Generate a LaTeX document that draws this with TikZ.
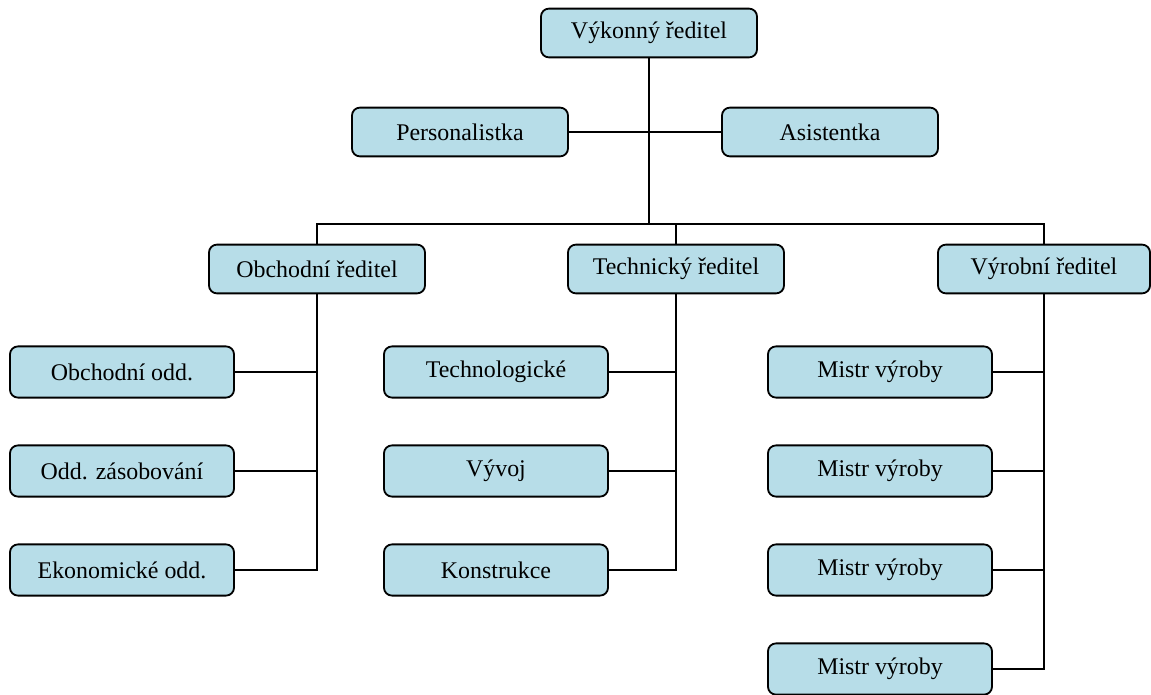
\documentclass[tikz,border=0pt]{standalone}
\usepackage{fontspec}
\setmainfont{Liberation Serif}
\definecolor{boxblue}{RGB}{183,221,232}
\tikzset{
  unit/.style={draw, line width=1.3pt, fill=boxblue, rounded corners=0.2cm,
    minimum height=1.22cm, inner sep=0pt, font=\fontsize{17}{20}\selectfont},
  head/.style={unit, minimum width=5.4cm},
  dept/.style={unit, minimum width=5.6cm, minimum height=1.28cm},
  link/.style={line width=1.1pt}
}
\begin{document}
\begin{tikzpicture}[x=0.025cm,y=-0.025cm]
        \useasboundingbox (0,0) rectangle (1151,695);
        %% top
        \node[head] (vr) at (649,33) {Výkonný ředitel};
        \node[head] (pe) at (460,132) {Personalistka};
        \node[head] (as) at (830,132) {Asistentka};
        \draw[link] (pe) -- (as);
        %% directors
        \node[head] (ob) at (317,269) {Obchodní ředitel};
        \node[head] (te) at (676,269) {Technický ředitel};
        \node[head, minimum width=5.3cm] (vy) at (1044,269) {Výrobní ředitel};
        \coordinate (bus) at (649,224);
        \draw[link] (vr) -- (bus);
        \draw[link] (ob.north) |- (bus) -| (vy.north);
        \draw[link] (bus -| te.north) -- (te.north);
        %% Obchodni
        \node[dept] (oo) at (122,372) {Obchodní odd.};
        \node[dept] (oz) at (122,471) {Odd. zásobování};
        \node[dept] (eo) at (122,570) {Ekonomické odd.};
        \draw[link] (ob.south) |- (eo.east);
        \draw[link] (oo.east) -- (oo.east -| ob.south);
        \draw[link] (oz.east) -- (oz.east -| ob.south);
        %% Technicky
        \node[dept] (tg) at (496,372) {Technologické};
        \node[dept] (vv) at (496,471) {Vývoj};
        \node[dept] (ko) at (496,570) {Konstrukce};
        \draw[link] (te.south) |- (ko.east);
        \draw[link] (tg.east) -- (tg.east -| te.south);
        \draw[link] (vv.east) -- (vv.east -| te.south);
        %% Vyrobni
        \foreach \i/\y in {1/372,2/471,3/570,4/669}
            \node[dept] (mv\i) at (880,\y) {Mistr výroby};
        \draw[link] (vy.south) |- (mv4.east);
        \foreach \i in {1,2,3}
            \draw[link] (mv\i.east) -- (mv\i.east -| vy.south);
    \end{tikzpicture}
\end{document}
